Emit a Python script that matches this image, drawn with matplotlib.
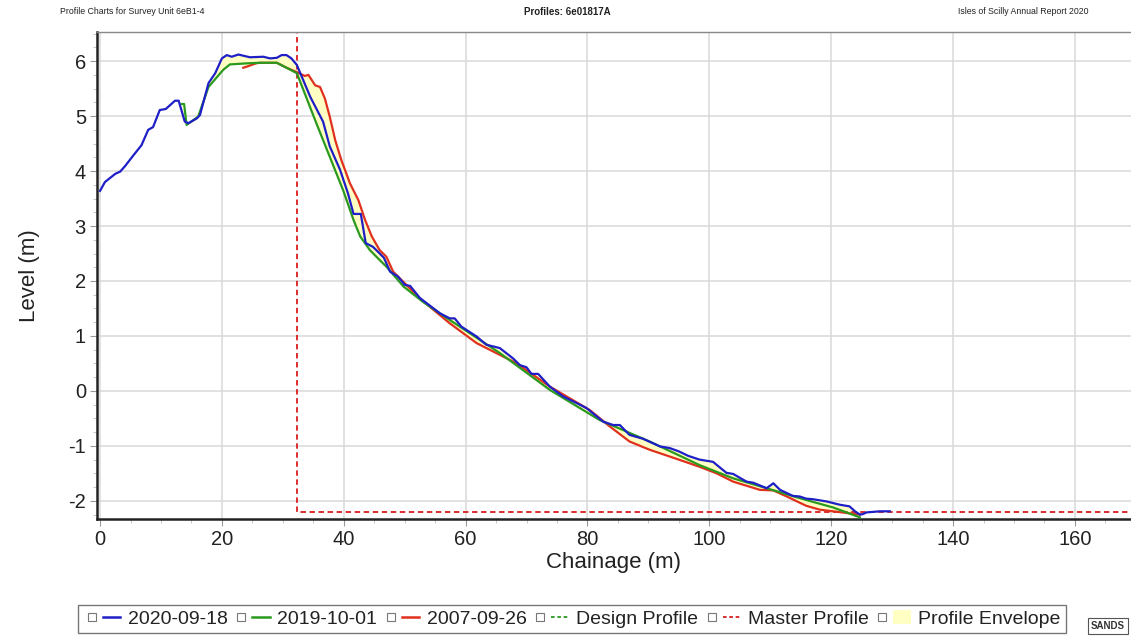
import numpy as np
import matplotlib
matplotlib.use("Agg")
import matplotlib.pyplot as plt
from matplotlib.lines import Line2D
from matplotlib.patches import Patch
from matplotlib.legend_handler import HandlerTuple
from matplotlib.ticker import MultipleLocator

plt.rcParams['font.family'] = ['Liberation Sans', 'DejaVu Sans']
plt.rcParams['axes.unicode_minus'] = False

# ---- data ----
ch_2020 = [0, 0.8, 2.5, 3.3, 4.1, 5.5, 6.8, 7.9, 8.7, 9.8, 10.8, 11.5, 12.3, 12.9, 13.9, 14.5,
           15.9, 16.4, 17.8, 18.9, 20, 20.8, 21.6, 22.7, 24.6, 26.8, 27.9, 29, 29.8, 30.6, 31.4,
           32.3, 34.5, 36.6, 37.7, 39.4, 40.7, 41.6, 42.8, 43.6, 44.8, 45.9, 46.6, 47.6, 48.9,
           50, 50.9, 52.5, 55.8, 57.4, 58.2, 59.3, 61.8, 63.4, 65.6, 67.8, 68.9, 70, 70.8, 71.9,
           73.8, 76, 78.2, 79.8, 82.6, 84.2, 85.3, 86.9, 89.1, 91.9, 93.5, 95, 96.5, 98.4, 100.6,
           102.8, 103.9, 106.1, 107.2, 109.4, 110.5, 111.6, 113.7, 114.8, 115.9, 117, 119.2,
           120.3, 121.4, 123, 123.9, 124.7, 125.2, 125.8, 128, 129.6]
lv_2020 = [3.64, 3.8, 3.95, 3.99, 4.09, 4.29, 4.47, 4.75, 4.8, 5.11, 5.13, 5.2, 5.28, 5.28, 4.9, 4.87,
           4.96, 5.02, 5.6, 5.78, 6.05, 6.11, 6.08, 6.12, 6.07, 6.08, 6.05, 6.06, 6.11, 6.11, 6.05,
           5.93, 5.35, 4.9, 4.45, 4.02, 3.59, 3.22, 3.22, 2.69, 2.62, 2.5, 2.42, 2.17, 2.08,
           1.93, 1.91, 1.69, 1.41, 1.32, 1.32, 1.17, 0.99, 0.84, 0.78, 0.59, 0.47, 0.43, 0.31, 0.31,
           0.08, -0.1, -0.22, -0.31, -0.56, -0.62, -0.62, -0.8, -0.87, -1.01, -1.04, -1.1, -1.18, -1.25, -1.29,
           -1.49, -1.51, -1.65, -1.67, -1.77, -1.68, -1.8, -1.91, -1.92, -1.96, -1.97, -2.01,
           -2.04, -2.07, -2.1, -2.19, -2.25, -2.24, -2.21, -2.19, -2.19]

ch_2019 = [13.4, 13.8, 14.2, 16.1, 17.8, 20.2, 21.3, 24.1, 26.2, 29, 30.6, 32.3, 35.5, 37.7, 39.9,
           41.6, 42.7, 44.3, 45.9, 47, 49.8, 53, 57.4, 65.6, 73.8, 82, 90.2, 98.4, 103.9, 109.4,
           114.8, 120.3, 124.7]
lv_2019 = [5.22, 5.22, 4.84, 4.99, 5.53, 5.84, 5.94, 5.96, 5.97, 5.97, 5.88, 5.78, 4.87, 4.26, 3.65,
           3.11, 2.81, 2.56, 2.38, 2.26, 1.9, 1.62, 1.29, 0.69, 0.02, -0.53, -0.92, -1.35, -1.59, -1.77,
           -1.95, -2.12, -2.3]

ch_2007 = [23.5, 24.1, 25.6, 26.2, 29, 30.6, 32.3, 33.6, 34.2, 35.3, 36.1, 36.9, 37.7, 38.6, 39.6,
           41, 42.4, 43.5, 44.6, 45.9, 47, 48.1, 50, 52.5, 55, 57.4, 61.8, 68.4, 73.8, 80.4, 83.7,
           86.9, 90.2, 94.2, 98.4, 101.2, 103.9, 108.3, 110.5, 112.7, 115.9, 118.1, 120.3, 122.5, 124.7]
lv_2007 = [5.88, 5.9, 5.96, 5.97, 5.97, 5.88, 5.8, 5.73, 5.75, 5.56, 5.53, 5.32, 4.99, 4.56, 4.2,
           3.78, 3.47, 3.11, 2.81, 2.56, 2.44, 2.17, 1.96, 1.68, 1.45, 1.23, 0.87, 0.5, 0.08, -0.35, -0.65,
           -0.92, -1.07, -1.22, -1.38, -1.5, -1.65, -1.8, -1.81, -1.92, -2.09, -2.16, -2.19, -2.22, -2.25]

master_ch = [32.3, 32.3, 170]
master_lv = [6.6, -2.2, -2.2]

x_ticks = [0, 20, 40, 60, 80, 100, 120, 140, 160]
y_ticks = [-2, -1, 0, 1, 2, 3, 4, 5, 6]

c_blue = '#1f1fc8'
c_green = '#2a9a1e'
c_red = '#e0301e'
c_env = '#ffffc4'
c_master = '#d81e1e'

fig = plt.figure(figsize=(11.31, 6.37), dpi=100)
ax = fig.add_axes([97 / 1131, (637 - 519) / 637, 1 - 97 / 1131, (519 - 32) / 637])

# envelope from profiles
profiles = [(np.array(ch_2020), np.array(lv_2020)),
            (np.array(ch_2019), np.array(lv_2019)),
            (np.array(ch_2007), np.array(lv_2007))]
grid = np.linspace(13.4, 124.7, 1200)
stack = []
for cx, cy in profiles:
    v = np.interp(grid, cx, cy)
    v[(grid < cx.min()) | (grid > cx.max())] = np.nan
    stack.append(v)
stack = np.array(stack)
ax.fill_between(grid, np.nanmin(stack, axis=0), np.nanmax(stack, axis=0),
                color=c_env, lw=0, zorder=1)

ax.plot(master_ch, master_lv, color=c_master, lw=1.3, ls=(0, (3, 2)), zorder=2)
ax.plot(ch_2007, lv_2007, color=c_red, lw=1.6, zorder=3)
ax.plot(ch_2019, lv_2019, color=c_green, lw=1.6, zorder=4)
ax.plot(ch_2020, lv_2020, color=c_blue, lw=1.6, zorder=5)

ax.set_xlim(-0.5, 169.2)
ax.set_ylim(-2.33, 6.53)
ax.set_xticks(x_ticks)
ax.set_yticks(y_ticks)
ax.xaxis.set_minor_locator(MultipleLocator(5))
ax.yaxis.set_minor_locator(MultipleLocator(0.25))
ax.grid(True, which='major', color='#d8d8d8', lw=1.1)
ax.set_axisbelow(True)
for s in ['left', 'bottom']:
    ax.spines[s].set_linewidth(1.8)
    ax.spines[s].set_color('#222222')
ax.spines['top'].set_color('#888888')
ax.spines['top'].set_linewidth(1.0)
ax.spines['right'].set_visible(False)
ax.tick_params(axis='both', which='major', labelsize=14.5, length=5, color='#999999',
               labelcolor='#222222', pad=3)
ax.tick_params(axis='both', which='minor', length=3, color='#bbbbbb')
ax.set_xlabel('Chainage (m)', fontsize=16, color='#222222', labelpad=2)
ax.set_ylabel('Level (m)', fontsize=16, color='#222222', labelpad=20)

# header
fig.text(60 / 1131, 1 - 12 / 637, 'Profile Charts for Survey Unit 6eB1-4', fontsize=6.3,
         va='center', ha='left', color='#222222')
fig.text(567 / 1131, 1 - 12 / 637, 'Profiles: 6e01817A', fontsize=7, fontweight='bold',
         va='center', ha='center', color='#222222')
fig.text(1088 / 1131, 1 - 12 / 637, 'Isles of Scilly Annual Report 2020', fontsize=6.3,
         va='center', ha='right', color='#222222')

# legend
def box():
    return Line2D([], [], ls='none', marker='s', markersize=6, markerfacecolor='white',
                  markeredgecolor='#777777', markeredgewidth=0.8)

handles = [
    (box(), Line2D([], [], color=c_blue, lw=1.8)),
    (box(), Line2D([], [], color=c_green, lw=1.8)),
    (box(), Line2D([], [], color=c_red, lw=1.8)),
    (box(), Line2D([], [], color=c_green, lw=1.3, ls=(0, (2, 1.5)))),
    (box(), Line2D([], [], color=c_master, lw=1.3, ls=(0, (2, 1.5)))),
    (box(), Patch(facecolor=c_env, edgecolor='none')),
]
labels = ['2020-09-18', '2019-10-01', '2007-09-26', 'Design Profile', 'Master Profile',
          'Profile Envelope']
leg = fig.legend(handles, labels, loc='center', bbox_to_anchor=(572 / 1131, 1 - 619 / 637),
                 ncol=6, fontsize=14, frameon=True, fancybox=False, edgecolor='#555555',
                 handler_map={tuple: HandlerTuple(ndivide=None, pad=0.1)},
                 handlelength=1.9, handletextpad=0.4, columnspacing=0.25,
                 borderpad=0.25, borderaxespad=0)
leg.get_frame().set_linewidth(1.0)
for t in leg.get_texts():
    t.set_color('#222222')

fig.text(1108 / 1131, 1 - 626 / 637, 'SANDS', fontsize=7, fontweight='bold', ha='center',
         va='center', color='#333333',
         bbox=dict(boxstyle='square,pad=0.3', fc='white', ec='#555555', lw=0.8))

fig.savefig('out.png', dpi=100)
